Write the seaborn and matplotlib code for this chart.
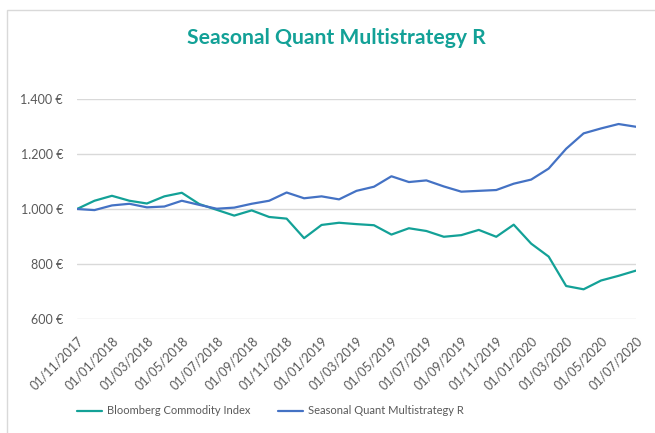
import pandas as pd
import matplotlib.pyplot as plt
import matplotlib.patches as mpatches
import seaborn as sns

# monthly values, 01/11/2017 .. 01/07/2020
dates = pd.date_range('2017-11-01', '2020-07-01', freq='MS').strftime('%d/%m/%Y').tolist()
bloomberg = [1000, 1030, 1048, 1030, 1020, 1046, 1059, 1018, 997, 976, 995, 971, 965,
             894, 942, 950, 945, 941, 907, 930, 920, 899, 905, 924, 899, 943, 874,
             827, 720, 708, 740, 757, 776]
seasonal = [1000, 996, 1013, 1019, 1006, 1009, 1030, 1015, 1001, 1005, 1019, 1030, 1060,
            1039, 1046, 1035, 1066, 1081, 1119, 1098, 1104, 1082, 1063, 1066, 1069, 1092,
            1107, 1147, 1219, 1275, 1293, 1309, 1299]
y_ticks = [600, 800, 1000, 1200, 1400]

df = pd.DataFrame({'date': dates * 2,
                   'value': bloomberg + seasonal,
                   'serie': ['Bloomberg Commodity Index'] * len(dates)
                            + ['Seasonal Quant Multistrategy R'] * len(dates)})

sns.set_style('white')
plt.rcParams['font.family'] = ['Lato', 'DejaVu Sans']

fig = plt.figure(figsize=(6.55, 4.33), dpi=100)
ax = fig.add_axes([77 / 655, 1 - 319 / 433, (636 - 77) / 655, 220 / 433])

sns.lineplot(data=df, x='date', y='value', hue='serie', ax=ax,
             palette=['#13A197', '#4472C4'], linewidth=1.6, legend=False)

ax.set_ylim(600, 1400)
ax.set_yticks(y_ticks)
ax.set_yticklabels([f'{v:,.0f} €'.replace(',', '.') for v in y_ticks],
                   color='#595959', fontsize=9)
ax.set_xlim(0, len(dates) - 1)
ax.set_xticks(range(0, len(dates), 2))
ax.set_xticklabels(dates[::2], rotation=45, ha='right', rotation_mode='anchor',
                   color='#595959', fontsize=9)
ax.tick_params(axis='y', length=0, pad=10)
ax.tick_params(axis='x', length=0, pad=11)
ax.grid(axis='y', color='#D9D9D9', linewidth=1)
for s in ax.spines.values():
    s.set_visible(False)
ax.set_xlabel('')
ax.set_ylabel('')

fig.text(0.513, 1 - 38 / 433, 'Seasonal Quant Multistrategy R', ha='center', va='center',
         color='#13A197', fontsize=15.2, fontweight='bold')

handles = [plt.Line2D([], [], color='#13A197', lw=1.6),
           plt.Line2D([], [], color='#4472C4', lw=1.6)]
fig.legend(handles, ['Bloomberg Commodity Index', 'Seasonal Quant Multistrategy R'],
           loc='center', bbox_to_anchor=(270 / 655, 1 - 411 / 433), ncol=2, frameon=False,
           fontsize=8, labelcolor='#595959', handlelength=2.3, handletextpad=0.4,
           columnspacing=2.5)

fig.patches.append(mpatches.Rectangle((7 / 655, -0.1), 1.1, 1 - 10 / 433 + 0.1,
                                      transform=fig.transFigure, fill=False,
                                      edgecolor='#D9D9D9', linewidth=1))

fig.savefig('out.png', dpi=100)
